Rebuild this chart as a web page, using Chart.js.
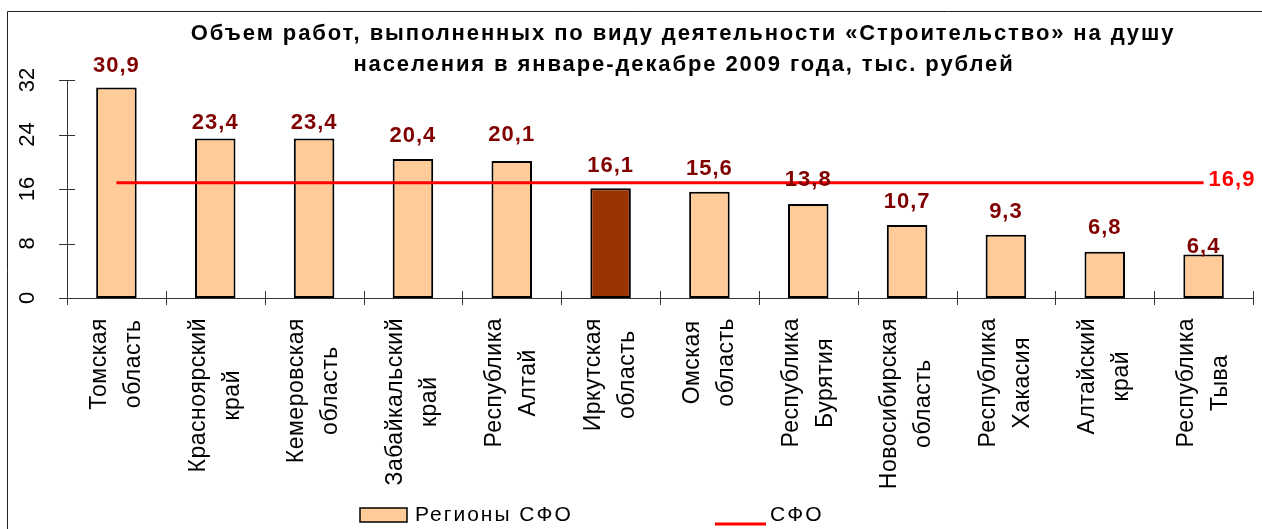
<!DOCTYPE html>
<html lang="ru">
<head>
<meta charset="UTF-8">
<title>Строительство на душу населения, 2009</title>
<script src="https://cdn.jsdelivr.net/npm/chart.js@4.4.0/dist/chart.umd.min.js"></script>
<style>
  body { margin: 0; background: #fff; }
</style>
</head>
<body>
<canvas id="myChart" width="1262" height="529"></canvas>
<script>
  // данные с картинки
  const regions = [
    ['Томская', 'область'],
    ['Красноярский', 'край'],
    ['Кемеровская', 'область'],
    ['Забайкальский', 'край'],
    ['Республика', 'Алтай'],
    ['Иркутская', 'область'],
    ['Омская', 'область'],
    ['Республика', 'Бурятия'],
    ['Новосибирская', 'область'],
    ['Республика', 'Хакасия'],
    ['Алтайский', 'край'],
    ['Республика', 'Тыва']
  ];
  const regionValues = [30.9, 23.4, 23.4, 20.4, 20.1, 16.1, 15.6, 13.8, 10.7, 9.3, 6.8, 6.4];
  const sfoValues = [16.9, 16.9, 16.9, 16.9, 16.9, 16.9, 16.9, 16.9, 16.9, 16.9, 16.9, 16.9];
  const yTicks = [0, 8, 16, 24, 32];
  const titleLines = [
    'Объем работ, выполненных по виду деятельности «Строительство» на душу',
    'населения в январе-декабре 2009 года, тыс. рублей'
  ];
  const highlightRegion = 'Иркутская';

  const font = '"Liberation Sans", Arial, sans-serif';
  const peach = '#FFCC99';
  const brown = '#993300';
  const labelRed = '#800000';

  const fmt = v => v.toFixed(1).replace('.', ',');

  let barColors = regions.map(r => r[0] === highlightRegion ? brown : peach);

  const sketchPlugin = {
    id: 'sketch',
    afterDatasetsDraw(chart, args, opts) {
      const ctx = chart.ctx;
      ctx.save();
      ctx.font = 'bold 22px ' + font;
      ctx.letterSpacing = '1px';
      ctx.fillStyle = labelRed;
      ctx.textAlign = 'center';
      ctx.textBaseline = 'alphabetic';
      chart.getDatasetMeta(0).data.forEach((bar, i) => {
        ctx.fillText(fmt(regionValues[i]), bar.x, bar.y - opts.lift[i]);
      });
      // подпись линии СФО
      const pts = chart.getDatasetMeta(1).data;
      const last = pts[pts.length - 1];
      ctx.fillStyle = '#FF0000';
      ctx.textAlign = 'left';
      ctx.textBaseline = 'middle';
      ctx.fillText(fmt(sfoValues[sfoValues.length - 1]), last.x + 5, last.y - 3);
      ctx.restore();
    },
    afterDraw(chart) {
      const ctx = chart.ctx;
      const xs = chart.scales.x, ys = chart.scales.y;
      const area = chart.chartArea;
      ctx.save();

      // рамка
      ctx.strokeStyle = '#222';
      ctx.lineWidth = 1;
      ctx.beginPath();
      ctx.moveTo(7.5, chart.height);
      ctx.lineTo(7.5, 11.5);
      ctx.lineTo(chart.width, 11.5);
      ctx.stroke();

      // заголовок
      ctx.fillStyle = '#000';
      ctx.font = 'bold 22px ' + font;
      ctx.letterSpacing = '1.9px';
      ctx.textAlign = 'center';
      ctx.textBaseline = 'alphabetic';
      ctx.fillText(titleLines[0], 683, 40);
      ctx.fillText(titleLines[1], 684, 71);

      // засечки осей
      ctx.strokeStyle = '#333';
      ctx.lineWidth = 1;
      ctx.beginPath();
      ys.ticks.forEach(t => {
        const y = Math.round(ys.getPixelForValue(t.value)) + 0.5;
        ctx.moveTo(area.left - 8, y);
        ctx.lineTo(area.left + 8, y);
      });
      const step = xs.getPixelForValue(1) - xs.getPixelForValue(0);
      for (let i = 0; i <= regions.length; i++) {
        const x = Math.round(xs.getPixelForValue(0) - step / 2 + i * step) + 0.5;
        ctx.moveTo(x, area.bottom - 7);
        ctx.lineTo(x, area.bottom + 7);
      }
      ctx.stroke();

      // подписи оси Y (повернутые)
      ctx.font = '22px ' + font;
      ctx.letterSpacing = '0px';
      ctx.fillStyle = '#000';
      ctx.textAlign = 'center';
      ctx.textBaseline = 'middle';
      ys.ticks.forEach(t => {
        ctx.save();
        ctx.translate(27, ys.getPixelForValue(t.value));
        ctx.rotate(-Math.PI / 2);
        ctx.fillText(String(t.value), 0, 1);
        ctx.restore();
      });

      // подписи категорий (повернутые)
      ctx.font = '23px ' + font;
      ctx.letterSpacing = '0.5px';
      regions.forEach((lines, i) => {
        const cx = xs.getPixelForValue(i);
        const w = Math.max(...lines.map(s => ctx.measureText(s).width));
        ctx.save();
        ctx.translate(cx, area.bottom + 20 + w / 2);
        ctx.rotate(-Math.PI / 2);
        lines.forEach((s, k) => {
          ctx.fillText(s, 0, (k - (lines.length - 1) / 2) * 34);
        });
        ctx.restore();
      });

      // легенда
      const ds = chart.data.datasets;
      ctx.font = '21px ' + font;
      ctx.letterSpacing = '2px';
      ctx.textAlign = 'left';
      ctx.textBaseline = 'alphabetic';
      ctx.fillStyle = peach;
      ctx.fillRect(360, 508, 47, 14);
      ctx.strokeStyle = '#000';
      ctx.lineWidth = 1.5;
      ctx.strokeRect(360, 508, 47, 14);
      ctx.fillStyle = '#000';
      ctx.fillText(ds[0].label, 415, 521);
      ctx.strokeStyle = ds[1].borderColor;
      ctx.lineWidth = 3;
      ctx.beginPath();
      ctx.moveTo(715, 524);
      ctx.lineTo(766, 524);
      ctx.stroke();
      ctx.fillText(ds[1].label, 770, 521);

      ctx.restore();
    }
  };

  let ctx = document.getElementById('myChart').getContext('2d');

  window.myChart = new Chart(ctx, {
    type: 'bar',
    data: {
      labels: regions,
      datasets: [{
        label: 'Регионы СФО',
        data: regionValues,
        backgroundColor: barColors,
        borderColor: '#000',
        borderWidth: 2,
        borderSkipped: false,
        barPercentage: 0.41,
        categoryPercentage: 1,
        order: 1
      }, {
        type: 'line',
        label: 'СФО',
        data: sfoValues,
        borderColor: '#FF0000',
        borderWidth: 3,
        pointRadius: 0,
        fill: false,
        order: 0
      }]
    },
    options: {
      responsive: false,
      animation: false,
      events: [],
      layout: {
        padding: { left: 67, right: 9, top: 80, bottom: 231 }
      },
      plugins: {
        legend: { display: false },
        title: { display: false },
        tooltip: { enabled: false },
        sketch: {
          lift: [15, 10, 10, 17, 20, 16, 17, 18, 17, 17, 18, 1]
        }
      },
      scales: {
        x: {
          offset: true,
          grid: { display: false, drawTicks: false },
          border: { display: true, color: '#333', width: 1 },
          ticks: { display: false }
        },
        y: {
          min: 0,
          max: 32,
          afterBuildTicks: scale => { scale.ticks = yTicks.map(v => ({ value: v })); },
          grid: { display: false, drawTicks: false },
          border: { display: true, color: '#333', width: 1 },
          ticks: { display: false }
        }
      }
    },
    plugins: [sketchPlugin]
  });
</script>
</body>
</html>
